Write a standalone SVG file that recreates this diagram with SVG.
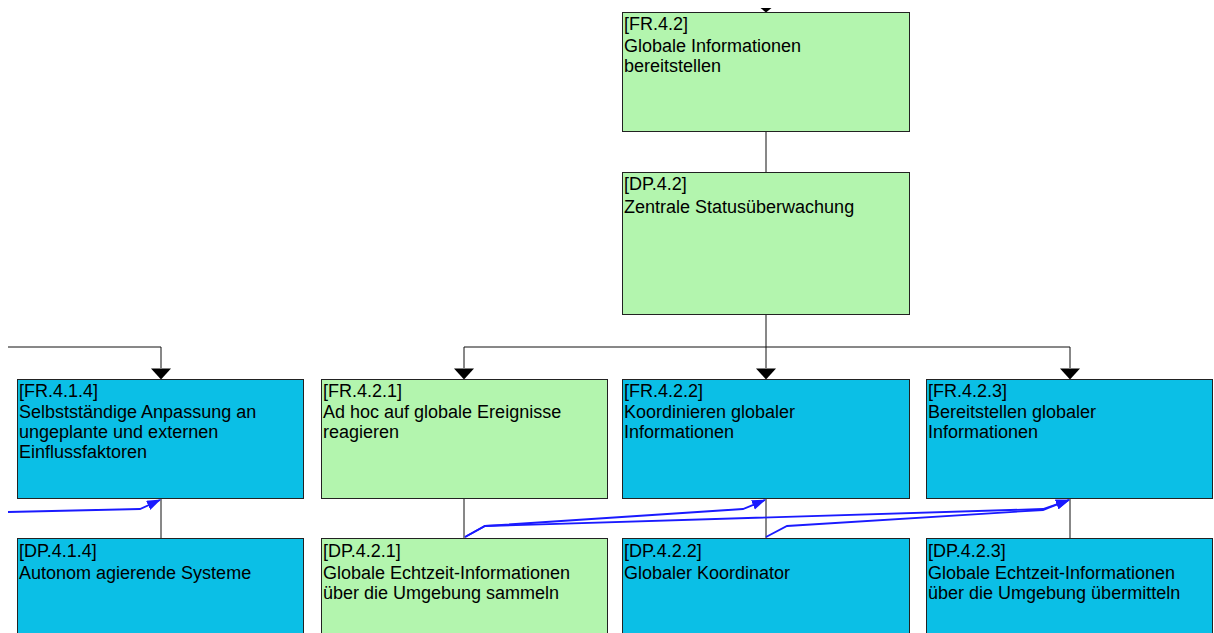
<svg xmlns="http://www.w3.org/2000/svg" width="1214" height="633" viewBox="0 0 1214 633">
<style>
.g{fill:#b3f5ae;stroke:#222;stroke-width:1}
.b{fill:#0bbfe6;stroke:#222;stroke-width:1}
.t{font-family:"Liberation Sans",Arial,sans-serif;font-size:18px;fill:#000}
.k{fill:none;stroke:#111;stroke-width:1}
.bl{fill:none;stroke:#1a1aff;stroke-width:1.8;marker-end:url(#ba)}
</style>
<defs>
<marker id="ba" markerUnits="userSpaceOnUse" markerWidth="16" markerHeight="12" refX="13" refY="5" orient="auto" viewBox="0 0 16 12">
<path d="M0,0 L14,5 L0,10 z" fill="#1a1aff"/>
</marker>
</defs>
<rect width="1214" height="633" fill="#fff"/>
<g id="connectors">
<polygon points="760.5,8 771.5,8 766,12.5" fill="#000"/>
<line class="k" x1="766" y1="132" x2="766" y2="172"/>
<path class="k" d="M766,315 V347 M464,347 H1070 M464,347 V368 M766,347 V368 M1070,347 V368 M8,347 H161 V368"/>
<polygon points="454,368.5 474,368.5 464,379.5" fill="#000"/>
<polygon points="756,368.5 776,368.5 766,379.5" fill="#000"/>
<polygon points="1060,368.5 1080,368.5 1070,379.5" fill="#000"/>
<polygon points="151,368.5 171,368.5 161,379.5" fill="#000"/>
<line class="k" x1="161" y1="499" x2="161" y2="538"/>
<line class="k" x1="464" y1="499" x2="464" y2="538"/>
<line class="k" x1="766" y1="499" x2="766" y2="538"/>
<line class="k" x1="1070" y1="499" x2="1070" y2="538"/>
<path class="bl" d="M8,512 L140,509 L160,500"/>
<path class="bl" d="M465,537 L485,526 L743,509 L765,500"/>
<path class="bl" d="M465,537 L485,526 L1043,509 L1069,500"/>
<path class="bl" d="M766,537 L787,526 L1043,510 L1069,500"/>
</g>
<g id="FR.4.2">
<rect class="g" x="622.5" y="12.5" width="287" height="119"/>
<text class="t" x="624" y="30">[FR.4.2]</text>
<text class="t" x="624" y="52">Globale Informationen</text>
<text class="t" x="624" y="72">bereitstellen</text>
</g>
<g id="DP.4.2">
<rect class="g" x="622.5" y="172.5" width="287" height="142"/>
<text class="t" x="624" y="190">[DP.4.2]</text>
<text class="t" x="624" y="213">Zentrale Statusüberwachung</text>
</g>
<g id="FR.4.1.4">
<rect class="b" x="17.5" y="379.5" width="286" height="119"/>
<text class="t" x="19" y="397">[FR.4.1.4]</text>
<text class="t" x="19" y="418">Selbstständige Anpassung an</text>
<text class="t" x="19" y="438">ungeplante und externen</text>
<text class="t" x="19" y="458">Einflussfaktoren</text>
</g>
<g id="FR.4.2.1">
<rect class="g" x="321.5" y="379.5" width="286" height="119"/>
<text class="t" x="323" y="397">[FR.4.2.1]</text>
<text class="t" x="323" y="418">Ad hoc auf globale Ereignisse</text>
<text class="t" x="323" y="438">reagieren</text>
</g>
<g id="FR.4.2.2">
<rect class="b" x="622.5" y="379.5" width="287" height="119"/>
<text class="t" x="624" y="397">[FR.4.2.2]</text>
<text class="t" x="624" y="418">Koordinieren globaler</text>
<text class="t" x="624" y="438">Informationen</text>
</g>
<g id="FR.4.2.3">
<rect class="b" x="926.5" y="379.5" width="286" height="119"/>
<text class="t" x="928" y="397">[FR.4.2.3]</text>
<text class="t" x="928" y="418">Bereitstellen globaler</text>
<text class="t" x="928" y="438">Informationen</text>
</g>
<g id="DP.4.1.4">
<rect class="b" x="17.5" y="538.5" width="286" height="110"/>
<text class="t" x="19" y="557">[DP.4.1.4]</text>
<text class="t" x="19" y="579">Autonom agierende Systeme</text>
</g>
<g id="DP.4.2.1">
<rect class="g" x="321.5" y="538.5" width="286" height="110"/>
<text class="t" x="323" y="557">[DP.4.2.1]</text>
<text class="t" x="323" y="579">Globale Echtzeit-Informationen</text>
<text class="t" x="323" y="599">über die Umgebung sammeln</text>
</g>
<g id="DP.4.2.2">
<rect class="b" x="622.5" y="538.5" width="287" height="110"/>
<text class="t" x="624" y="557">[DP.4.2.2]</text>
<text class="t" x="624" y="579">Globaler Koordinator</text>
</g>
<g id="DP.4.2.3">
<rect class="b" x="926.5" y="538.5" width="286" height="110"/>
<text class="t" x="928" y="557">[DP.4.2.3]</text>
<text class="t" x="928" y="579">Globale Echtzeit-Informationen</text>
<text class="t" x="928" y="599">über die Umgebung übermitteln</text>
</g>
</svg>
